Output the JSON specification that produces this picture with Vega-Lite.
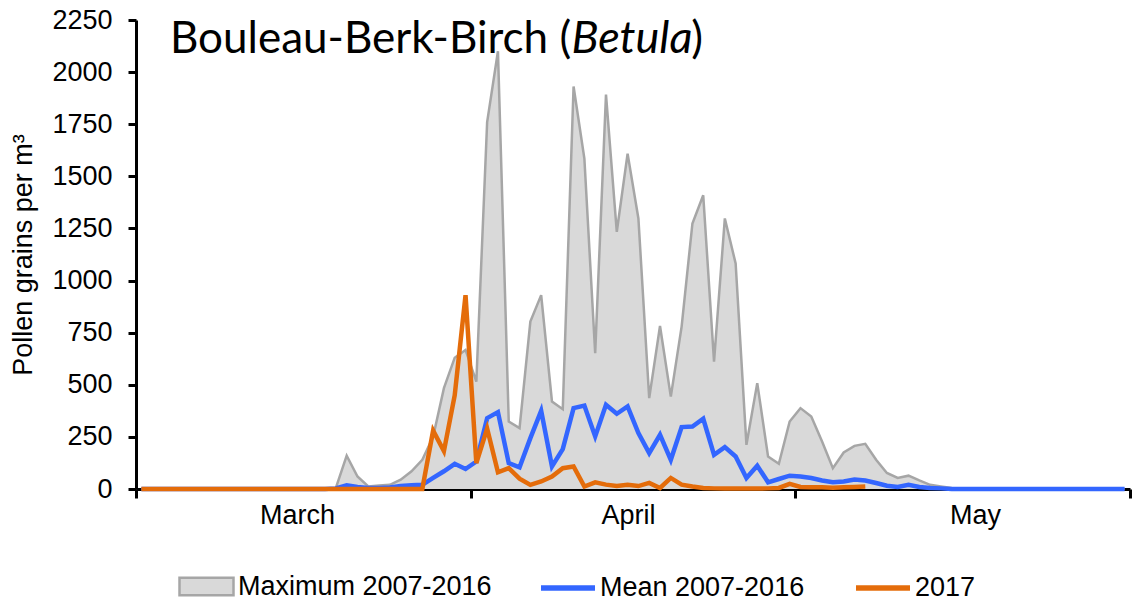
{
  "$schema": "https://vega.github.io/schema/vega-lite/v6.json",
  "width": 994,
  "height": 469,
  "autosize": "none",
  "padding": {"left": 136, "top": 20, "right": 6, "bottom": 114},
  "background": "white",
  "config": {
    "view": {"stroke": null},
    "font": "Liberation Sans",
    "axis": {"labelFont": "Liberation Sans", "titleFont": "Liberation Sans", "grid": false},
    "legend": {"labelFont": "Liberation Sans", "labelFontSize": 27, "labelColor": "#000000", "labelLimit": 0, "labelOffset": 3, "columnPadding": 45, "padding": 0, "title": null, "symbolSize": 2916, "direction": "horizontal", "orient": "none"}
  },
  "data": {"values": [
    {"d":1,"max":0,"mean":0,"y2017":0},{"d":2,"max":0,"mean":0,"y2017":0},{"d":3,"max":0,"mean":0,"y2017":0},
    {"d":4,"max":0,"mean":0,"y2017":0},{"d":5,"max":0,"mean":0,"y2017":0},{"d":6,"max":0,"mean":0,"y2017":0},
    {"d":7,"max":0,"mean":0,"y2017":0},{"d":8,"max":0,"mean":0,"y2017":0},{"d":9,"max":0,"mean":0,"y2017":0},
    {"d":10,"max":0,"mean":0,"y2017":0},{"d":11,"max":0,"mean":0,"y2017":0},{"d":12,"max":0,"mean":0,"y2017":0},
    {"d":13,"max":0,"mean":0,"y2017":0},{"d":14,"max":0,"mean":0,"y2017":0},{"d":15,"max":0,"mean":0,"y2017":0},
    {"d":16,"max":0,"mean":0,"y2017":0},{"d":17,"max":0,"mean":0,"y2017":0},{"d":18,"max":0,"mean":0,"y2017":0},
    {"d":19,"max":5,"mean":3,"y2017":0},{"d":20,"max":160,"mean":18,"y2017":0},{"d":21,"max":60,"mean":10,"y2017":0},
    {"d":22,"max":12,"mean":5,"y2017":0},{"d":23,"max":17,"mean":5,"y2017":0},{"d":24,"max":20,"mean":7,"y2017":0},
    {"d":25,"max":45,"mean":15,"y2017":0},{"d":26,"max":85,"mean":18,"y2017":0},{"d":27,"max":140,"mean":20,"y2017":0},
    {"d":28,"max":250,"mean":53,"y2017":280},{"d":29,"max":484,"mean":85,"y2017":182},{"d":30,"max":630,"mean":121,"y2017":450},
    {"d":31,"max":667,"mean":96,"y2017":930},{"d":32,"max":515,"mean":132,"y2017":124},{"d":33,"max":1760,"mean":340,"y2017":290},
    {"d":34,"max":2100,"mean":369,"y2017":80},{"d":35,"max":324,"mean":124,"y2017":100},{"d":36,"max":292,"mean":104,"y2017":50},
    {"d":37,"max":803,"mean":244,"y2017":20},{"d":38,"max":930,"mean":375,"y2017":36},{"d":39,"max":420,"mean":108,"y2017":60},
    {"d":40,"max":383,"mean":191,"y2017":100},{"d":41,"max":1931,"mean":388,"y2017":108},{"d":42,"max":1585,"mean":400,"y2017":12},
    {"d":43,"max":651,"mean":252,"y2017":32},{"d":44,"max":1892,"mean":404,"y2017":21},{"d":45,"max":1234,"mean":361,"y2017":14},
    {"d":46,"max":1609,"mean":396,"y2017":20},{"d":47,"max":1298,"mean":268,"y2017":14},{"d":48,"max":436,"mean":172,"y2017":29},
    {"d":49,"max":782,"mean":260,"y2017":5},{"d":50,"max":443,"mean":140,"y2017":53},{"d":51,"max":779,"mean":297,"y2017":21},
    {"d":52,"max":1274,"mean":300,"y2017":12},{"d":53,"max":1409,"mean":337,"y2017":5},{"d":54,"max":611,"mean":164,"y2017":3},
    {"d":55,"max":1298,"mean":201,"y2017":2},{"d":56,"max":1082,"mean":156,"y2017":2},{"d":57,"max":212,"mean":53,"y2017":2},
    {"d":58,"max":508,"mean":112,"y2017":2},{"d":59,"max":156,"mean":32,"y2017":3},{"d":60,"max":121,"mean":48,"y2017":5},
    {"d":61,"max":324,"mean":64,"y2017":25},{"d":62,"max":388,"mean":60,"y2017":10},{"d":63,"max":348,"mean":53,"y2017":8},
    {"d":64,"max":228,"mean":41,"y2017":8},{"d":65,"max":100,"mean":32,"y2017":6},{"d":66,"max":175,"mean":36,"y2017":8},
    {"d":67,"max":207,"mean":45,"y2017":10},{"d":68,"max":217,"mean":41,"y2017":12},{"d":69,"max":140,"mean":29,"y2017":null},
    {"d":70,"max":77,"mean":16,"y2017":null},{"d":71,"max":53,"mean":10,"y2017":null},{"d":72,"max":64,"mean":20,"y2017":null},
    {"d":73,"max":41,"mean":10,"y2017":null},{"d":74,"max":20,"mean":5,"y2017":null},{"d":75,"max":12,"mean":3,"y2017":null},
    {"d":76,"max":5,"mean":0,"y2017":null},{"d":77,"max":0,"mean":0,"y2017":null},{"d":78,"max":0,"mean":0,"y2017":null},
    {"d":79,"max":0,"mean":0,"y2017":null},{"d":80,"max":0,"mean":0,"y2017":null},{"d":81,"max":0,"mean":0,"y2017":null},
    {"d":82,"max":0,"mean":0,"y2017":null},{"d":83,"max":0,"mean":0,"y2017":null},{"d":84,"max":0,"mean":0,"y2017":null},
    {"d":85,"max":0,"mean":0,"y2017":null},{"d":86,"max":0,"mean":0,"y2017":null},{"d":87,"max":0,"mean":0,"y2017":null},
    {"d":88,"max":0,"mean":0,"y2017":null},{"d":89,"max":0,"mean":0,"y2017":null},{"d":90,"max":0,"mean":0,"y2017":null},
    {"d":91,"max":0,"mean":0,"y2017":null},{"d":92,"max":0,"mean":0,"y2017":null}
  ]},
  "encoding": {
    "x": {
      "field": "d",
      "type": "quantitative",
      "scale": {"domain": [0.5, 92.5], "nice": false, "zero": false},
      "axis": {
        "title": null,
        "values": [0.5, 31.5, 61.5, 92.5],
        "labelExpr": "datum.value < 1 ? 'March' : datum.value < 32 ? 'April' : datum.value < 62 ? 'May' : ''",
        "labelOffset": {"condition": [{"test": "datum.value < 1", "value": 161}, {"test": "datum.value < 32", "value": 157}], "value": 180},
        "labelFontSize": 27,
        "labelColor": "#000000",
        "labelPadding": 4,
        "labelFlush": false,
        "labelOverlap": false,
        "domainColor": "#000000",
        "domainWidth": 3,
        "tickColor": "#000000",
        "tickWidth": 3,
        "tickSize": 9
      }
    }
  },
  "layer": [
    {
      "mark": {"type": "area", "opacity": 1},
      "encoding": {
        "y": {
          "field": "max",
          "type": "quantitative",
          "scale": {"domain": [0, 2250], "nice": false},
          "axis": {
            "title": "Pollen grains per m³",
            "titleFontSize": 27,
            "titleFontWeight": "normal",
            "titleColor": "#000000",
            "titlePadding": 14,
            "values": [0, 250, 500, 750, 1000, 1250, 1500, 1750, 2000, 2250],
            "format": "d",
            "labelFontSize": 27,
            "labelColor": "#000000",
            "labelPadding": 16,
            "domainColor": "#000000",
            "domainWidth": 3,
            "tickColor": "#000000",
            "tickWidth": 3,
            "tickSize": 8
          }
        },
        "fill": {
          "datum": "Maximum 2007-2016",
          "type": "nominal",
          "scale": {"domain": ["Maximum 2007-2016"], "range": ["#d9d9d9"]},
          "legend": {
            "legendX": 42,
            "legendY": 538,
            "symbolType": "M-1,-0.32H1V0.32H-1Z",
            "symbolStrokeColor": "#a6a6a6",
            "symbolStrokeWidth": 2.5,
            "symbolOpacity": 1
          }
        }
      }
    },
    {
      "mark": {"type": "line", "color": "#a6a6a6", "strokeWidth": 2.5},
      "encoding": {"y": {"field": "max", "type": "quantitative"}}
    },
    {
      "mark": {"type": "line", "strokeWidth": 4.5},
      "encoding": {
        "y": {"field": "mean", "type": "quantitative"},
        "stroke": {
          "datum": "Mean 2007-2016",
          "type": "nominal",
          "scale": {"domain": ["Mean 2007-2016", "2017"], "range": ["#3366ff", "#e46c0a"]},
          "legend": {
            "legendX": 402,
            "legendY": 538,
            "labelOffset": 2,
            "columnPadding": 40,
            "symbolType": "M-1,0H1",
            "symbolStrokeWidth": 5.5
          }
        }
      }
    },
    {
      "mark": {"type": "line", "strokeWidth": 4.5},
      "encoding": {"y": {"field": "y2017", "type": "quantitative"}, "stroke": {"datum": "2017", "type": "nominal"}}
    },
    {
      "transform": [{"filter": "datum.d == 1"}],
      "mark": {"type": "text", "font": "Lato", "fontSize": 44, "align": "left", "baseline": "alphabetic", "color": "#000000"},
      "encoding": {"x": {"datum": 3.64}, "y": {"datum": 2094}, "text": {"value": "Bouleau-Berk-Birch ("}}
    },
    {
      "transform": [{"filter": "datum.d == 1"}],
      "mark": {"type": "text", "font": "Lato", "fontSize": 45, "fontStyle": "italic", "align": "left", "baseline": "alphabetic", "color": "#000000"},
      "encoding": {"x": {"datum": 40.8}, "y": {"datum": 2094}, "text": {"value": "Betula"}}
    },
    {
      "transform": [{"filter": "datum.d == 1"}],
      "mark": {"type": "text", "font": "Lato", "fontSize": 44, "align": "left", "baseline": "alphabetic", "color": "#000000"},
      "encoding": {"x": {"datum": 51.9}, "y": {"datum": 2094}, "text": {"value": ")"}}
    }
  ]
}
